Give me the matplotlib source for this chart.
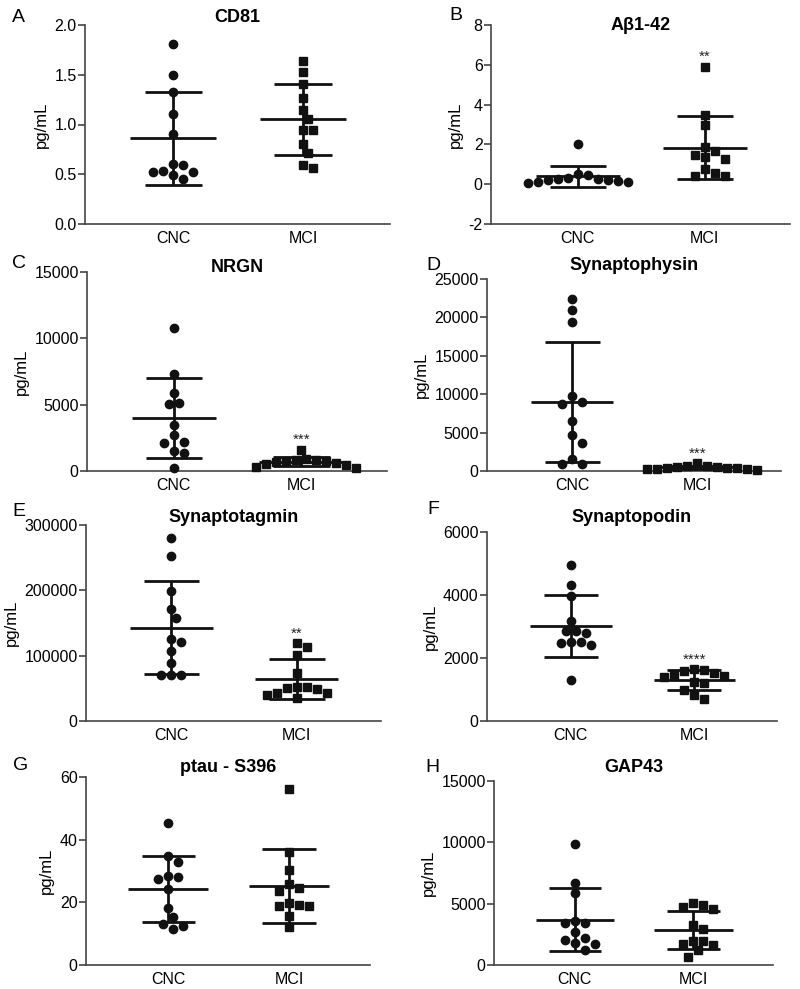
import numpy as np
import matplotlib
matplotlib.use('Agg')
import matplotlib.pyplot as plt

plt.rcParams['font.family'] = ['Liberation Sans', 'DejaVu Sans']

# groups and panel text
groups = ['CNC', 'MCI']
letters = ['A', 'B', 'C', 'D', 'E', 'F', 'G', 'H']
titles = ['CD81', 'Aβ1-42', 'NRGN', 'Synaptophysin', 'Synaptotagmin',
          'Synaptopodin', 'ptau - S396', 'GAP43']
stars = ['', '**', '***', '***', '**', '****', '', '']

# values (pg/mL), 12 subjects per group
cd81_cnc = [1.81, 1.50, 1.33, 1.105, 0.90, 0.60, 0.59, 0.53, 0.52, 0.49, 0.52, 0.45]
cd81_mci = [1.64, 1.53, 1.41, 1.27, 1.15, 1.055, 0.945, 0.945, 0.80, 0.71, 0.59, 0.56]
abeta_cnc = [2.02, 0.52, 0.48, 0.30, 0.28, 0.25, 0.22, 0.20, 0.15, 0.10, 0.12, 0.08]
abeta_mci = [5.91, 3.48, 2.97, 1.87, 1.67, 1.45, 1.35, 1.27, 0.75, 0.55, 0.43, 0.41]
nrgn_cnc = [10810, 7349, 5844, 5092, 5050, 3461, 2684, 2207, 2082, 1505, 1329, 200]
nrgn_mci = [1600, 900, 850, 800, 780, 720, 680, 620, 550, 450, 300, 250]
syp_cnc = [22348, 20913, 19348, 9783, 9043, 8696, 6522, 4652, 3609, 1522, 870, 957]
syp_mci = [1050, 700, 600, 550, 500, 450, 400, 350, 300, 250, 200, 150]
syt_cnc = [279592, 252551, 198980, 171939, 157143, 125510, 121429, 107653, 88265,
           70918, 70918, 70918]
syt_mci = [118878, 112755, 101531, 73469, 52551, 50000, 52041, 49490, 42857, 42347,
           40306, 34694]
synpo_cnc = [4954, 4320, 3972, 3180, 2873, 2863, 2799, 2514, 2461, 2419, 2514, 1299]
synpo_mci = [1648, 1606, 1595, 1521, 1426, 1447, 1405, 1236, 1194, 982, 835, 697]
ptau_cnc = [45.3, 34.9, 33.0, 28.35, 28.1, 27.5, 24.4, 18.2, 15.2, 13.0, 12.5, 11.4]
ptau_mci = [56.3, 36.1, 30.3, 25.8, 24.7, 23.7, 19.65, 18.9, 18.9, 19.2, 15.6, 12.2]
gap43_cnc = [9864, 6658, 5842, 3587, 3424, 3424, 2663, 2228, 2065, 1766, 1685, 1223]
gap43_mci = [5027, 4891, 4701, 4538, 3234, 2908, 1957, 1957, 1712, 1630, 1223, 625]

panel_data = [(cd81_cnc, cd81_mci), (abeta_cnc, abeta_mci), (nrgn_cnc, nrgn_mci),
              (syp_cnc, syp_mci), (syt_cnc, syt_mci), (synpo_cnc, synpo_mci),
              (ptau_cnc, ptau_mci), (gap43_cnc, gap43_mci)]

yticks = [[0.0, 0.5, 1.0, 1.5, 2.0], [-2, 0, 2, 4, 6, 8], [0, 5000, 10000, 15000],
          [0, 5000, 10000, 15000, 20000, 25000], [0, 100000, 200000, 300000],
          [0, 2000, 4000, 6000], [0, 20, 40, 60], [0, 5000, 10000, 15000]]

# layout in pixels: axes (left, right, top, bottom), letter (x, y), title y
W, H = 800, 989
boxes = [(85, 390, 25, 224), (491, 790, 25, 224), (87, 387, 272, 471),
         (487, 781, 279, 471), (86, 381, 525, 721), (487, 777, 532, 721),
         (86, 370, 777, 965), (494, 773, 781, 965)]
letter_pos = [(12, 17), (449, 15), (12, 263), (426, 265), (12, 512), (427, 510),
              (13, 766), (425, 768)]
title_y = [17, 25, 268, 265, 518, 518, 767, 768]


def beeswarm(ax, x0, vals, diam=10, step=5):
    # spread points sideways so that markers do not overlap (pixel space)
    ys = ax.transData.transform(np.column_stack([np.full(len(vals), x0), vals]))[:, 1]
    placed = []
    offs = np.zeros(len(vals))
    for i in np.argsort(-np.asarray(vals)):
        k = 0
        while True:
            cands = [0] if k == 0 else [k * step, -k * step]
            ok = None
            for c in cands:
                if all((c - px) ** 2 + (ys[i] - py) ** 2 >= diam ** 2 for px, py in placed):
                    ok = c
                    break
            if ok is not None:
                break
            k += 1
        placed.append((ok, ys[i]))
        offs[i] = ok
    ppu = ax.transData.transform((1, 0))[0] - ax.transData.transform((0, 0))[0]
    return x0 + offs / ppu


fig = plt.figure(figsize=(8, 9.89), dpi=100)

for n in range(8):
    l, r, t, b = boxes[n]
    ax = fig.add_axes([l / W, 1 - b / H, (r - l) / W, (b - t) / H])
    yt = yticks[n]
    ax.set_xlim(0.32, 2.67)
    ax.set_ylim(yt[0], yt[-1])
    for sp in ['top', 'right']:
        ax.spines[sp].set_visible(False)
    for sp in ['left', 'bottom']:
        ax.spines[sp].set_color('#444444')
        ax.spines[sp].set_linewidth(1.2)
    ax.set_yticks(yt)
    if n == 0:
        ax.set_yticklabels(['%.1f' % v for v in yt])
    else:
        ax.set_yticklabels(['%d' % v for v in yt])
    ax.set_xticks([1, 2])
    ax.set_xticklabels(groups)
    ax.tick_params(axis='y', length=5, width=1.2, color='#444444', labelsize=11.5, pad=1)
    ax.tick_params(axis='x', length=0, labelsize=11.5, pad=5)
    ax.set_ylabel('pg/mL', fontsize=12, labelpad=4)

    for g, vals in enumerate(panel_data[n]):
        x0 = g + 1
        vals = np.asarray(vals, dtype=float)
        xs = beeswarm(ax, x0, vals)
        ax.plot(xs, vals, ls='none', marker='o' if g == 0 else 's',
                ms=6 if g == 0 else 5.6, color='#111111', zorder=3, clip_on=False)
        m = vals.mean()
        sd = vals.std(ddof=1)
        ax.hlines(m, x0 - 0.33, x0 + 0.33, color='#111111', lw=2, zorder=4)
        ax.hlines([m - sd, m + sd], x0 - 0.22, x0 + 0.22, color='#111111', lw=2, zorder=4)
        ax.vlines(x0, m - sd, m + sd, color='#111111', lw=2, zorder=4)

    if stars[n]:
        top = max(panel_data[n][1])
        ax.annotate(stars[n], xy=(2, top), xytext=(0, 4), textcoords='offset points',
                    ha='center', va='baseline', fontsize=11, color='#222222')

    fig.text(letter_pos[n][0] / W, 1 - letter_pos[n][1] / H, letters[n],
             fontsize=14, ha='left', va='center')
    fig.text((l + r) / 2 / W, 1 - title_y[n] / H, titles[n], fontsize=13,
             fontweight='bold', ha='center', va='center')

fig.savefig('out.png', dpi=100)
